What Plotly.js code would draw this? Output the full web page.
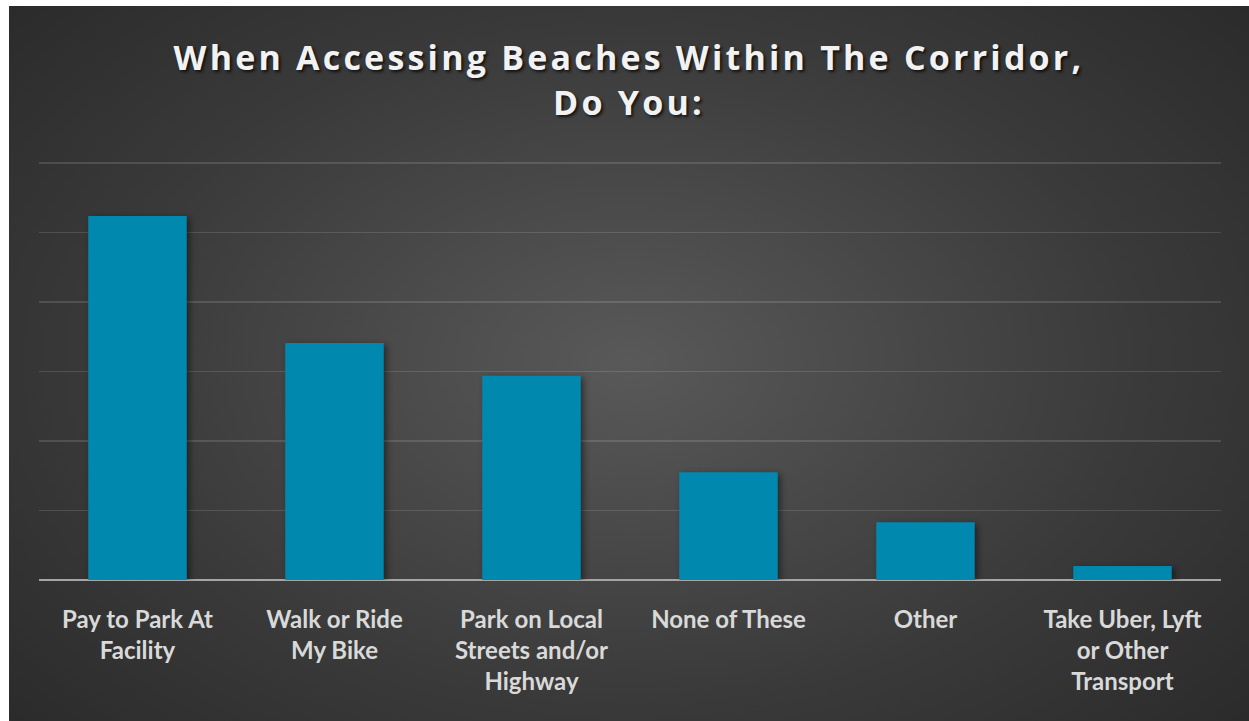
<!DOCTYPE html>
<html>
<head>
<meta charset="utf-8">
<script src="https://cdn.plot.ly/plotly-3.0.1.min.js"></script>
<style>
  html, body { margin: 0; padding: 0; background: #ffffff; }
  #chart {
    position: absolute; left: 9px; top: 6px; width: 1240px; height: 715px;
    background: radial-gradient(ellipse 75% 85% at 50% 50%, #595959 0%, #3a3a3a 55%, #262626 100%);
  }
  #chart .gtitle { letter-spacing: 3.2px; }
  #chart .bars path { filter: drop-shadow(3px 2px 3px rgba(0,0,0,0.45)); }
</style>
</head>
<body>
<div id="chart"></div>
<script>
const categories = [
  "Pay to Park At<br>Facility",
  "Walk or Ride<br>My Bike",
  "Park on Local<br>Streets and/or<br>Highway",
  "None of These",
  "Other",
  "Take Uber, Lyft<br>or Other<br>Transport"
];
const values = [52.4, 34.1, 29.4, 15.5, 8.3, 2.0];
const titleText = "When Accessing Beaches Within The Corridor,<br>Do You:";

const trace = {
  type: "bar",
  x: categories,
  y: values,
  marker: { color: "#0088ae", line: { width: 0 } },
  hoverinfo: "skip"
};

const layout = {
  width: 1240,
  height: 715,
  paper_bgcolor: "rgba(0,0,0,0)",
  plot_bgcolor: "rgba(0,0,0,0)",
  margin: { l: 30, r: 28, t: 155, b: 141 },
  bargap: 0.5,
  showlegend: false,
  title: {
    text: titleText,
    x: 0.5,
    xanchor: "center",
    y: 0.91,
    yref: "container",
    yanchor: "middle",
    font: { family: "Open Sans", size: 34, weight: 700, color: "#f2f2f2",
            shadow: "2px 2px 3px rgba(0,0,0,0.7)" }
  },
  xaxis: {
    tickfont: { family: "Lato", size: 24, weight: 700, color: "#d9d9d9" },
    showgrid: false,
    showline: false,
    ticks: "outside",
    ticklen: 18,
    tickcolor: "rgba(0,0,0,0)",
    tickangle: 0,
    fixedrange: true
  },
  yaxis: {
    range: [0, 60.3],
    tick0: 0,
    dtick: 10,
    showticklabels: false,
    showgrid: true,
    gridcolor: "rgba(255,255,255,0.13)",
    gridwidth: 1.5,
    zeroline: true,
    zerolinecolor: "#a6a6a6",
    zerolinewidth: 2,
    fixedrange: true
  }
};

Plotly.newPlot("chart", [trace], layout, { displayModeBar: false, staticPlot: true });
</script>
</body>
</html>
